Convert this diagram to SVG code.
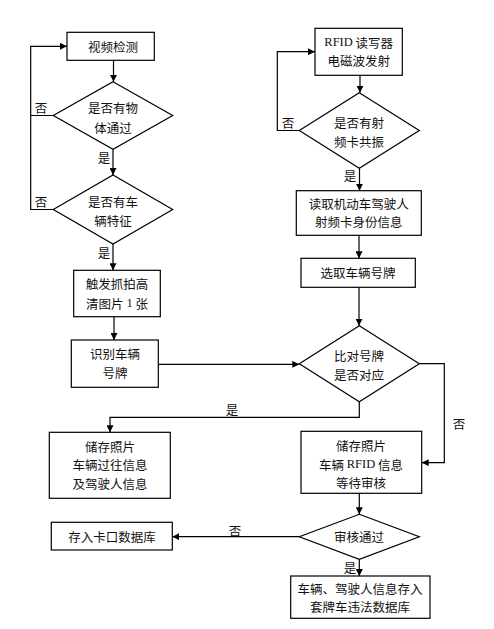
<svg xmlns="http://www.w3.org/2000/svg" width="494" height="629" viewBox="0 0 494 629">
<defs>
<marker id="ah" viewBox="0 0 8 8" markerWidth="7" markerHeight="7" refX="8" refY="4" orient="auto" markerUnits="userSpaceOnUse">
<path d="M0,0 L8,4 L0,8 z" fill="#000"/>
</marker>
<style>
.n{fill:#fff;stroke:#000;stroke-width:1.2}
.c{fill:none;stroke:#000;stroke-width:1.2}
.a{marker-end:url(#ah)}
text{font-family:"Noto Sans CJK SC","Noto Sans",sans-serif;font-size:12.5px;fill:#111;text-anchor:middle;dominant-baseline:central}
.r{font-family:"Liberation Serif",serif}
</style>
</defs>
<rect width="494" height="629" fill="#fff"/>
<g id="connectors">
<path class="c a" d="M113.5,60 V81.7"/>
<path class="c a" d="M113,149.3 V175"/>
<path class="c a" d="M53.3,115.5 H30.7 V46.3 H67"/>
<path class="c" d="M53.3,209.5 H30.7 V115.5"/>
<path class="c a" d="M113,244 V270.3"/>
<path class="c a" d="M114,316.7 V340"/>
<path class="c a" d="M158.3,364.3 H299.3"/>
<path class="c a" d="M360,75.3 V92.7"/>
<path class="c a" d="M299.3,130.5 H277.3 V51.7 H315"/>
<path class="c a" d="M359.5,168.3 V190.7"/>
<path class="c a" d="M359,235.3 V258.3"/>
<path class="c a" d="M359,287.3 V325.7"/>
<path class="c a" d="M359.3,401.7 V417.3 H110 V432.3"/>
<path class="c a" d="M419.3,363.7 H444.3 V462.7 H421.7"/>
<path class="c a" d="M359.3,493.3 V514.3"/>
<path class="c a" d="M299.3,536.7 H172.3"/>
<path class="c a" d="M359.3,559.3 V576"/>
<text x="41" y="107">否</text>
<text x="104" y="157">是</text>
<text x="41" y="201">否</text>
<text x="104" y="252">是</text>
<text x="288" y="122.7">否</text>
<text x="350" y="175">是</text>
<text x="232" y="409">是</text>
<text x="459" y="423">否</text>
<text x="235" y="530">否</text>
<text x="350" y="567.5">是</text>
</g>
<g id="n1"><rect class="n" x="67" y="32.3" width="87.3" height="28"/><text x="113" y="46.3">视频检测</text></g>
<g id="n2"><polygon class="n" points="113,81.7 172.7,115.5 113,149.3 53.3,115.5"/><text x="113" y="107">是否有物</text><text x="113" y="127">体通过</text></g>
<g id="n3"><polygon class="n" points="113,175 172.7,209.5 113,244 53.3,209.5"/><text x="113" y="201">是否有车</text><text x="113" y="220">辆特征</text></g>
<g id="n4"><rect class="n" x="73.7" y="270.3" width="86.6" height="46.4"/><text x="117" y="283">触发抓拍高</text><text x="117" y="303">清图片 <tspan class="r">1</tspan> 张</text></g>
<g id="n5"><rect class="n" x="71.3" y="340" width="87" height="47.3"/><text x="115" y="353">识别车辆</text><text x="115" y="372">号牌</text></g>
<g id="n6"><rect class="n" x="49.3" y="432.3" width="121" height="66"/><text x="110" y="446">储存照片</text><text x="110" y="464.3">车辆过往信息</text><text x="110" y="483.3">及驾驶人信息</text></g>
<g id="n7"><rect class="n" x="51.3" y="522.3" width="121" height="27.7"/><text x="112" y="536.5">存入卡口数据库</text></g>
<g id="n8"><rect class="n" x="315" y="28.3" width="87.3" height="47"/><text x="358.7" y="42.3"><tspan class="r">RFID</tspan> 读写器</text><text x="358.7" y="60.7">电磁波发射</text></g>
<g id="n9"><polygon class="n" points="359.3,92.7 419.3,130.5 359.3,168.3 299.3,130.5"/><text x="359" y="122.7">是否有射</text><text x="359" y="141.7">频卡共振</text></g>
<g id="n10"><rect class="n" x="296.3" y="190.7" width="125" height="44.6"/><text x="358.8" y="203.3">读取机动车驾驶人</text><text x="358.8" y="221.7">射频卡身份信息</text></g>
<g id="n11"><rect class="n" x="301" y="258.3" width="114.3" height="29"/><text x="358" y="272.7">选取车辆号牌</text></g>
<g id="n12"><polygon class="n" points="359.3,325.7 419.3,363.7 359.3,401.7 299.3,363.7"/><text x="359" y="355">比对号牌</text><text x="359" y="374">是否对应</text></g>
<g id="n13"><rect class="n" x="301" y="431.3" width="120.7" height="62"/><text x="361" y="445">储存照片</text><text x="361" y="464">车辆 <tspan class="r">RFID</tspan> 信息</text><text x="361" y="482.3">等待审核</text></g>
<g id="n14"><polygon class="n" points="359.3,514.3 419.3,536.7 359.3,559.3 299.3,536.7"/><text x="359" y="536.7">审核通过</text></g>
<g id="n15"><rect class="n" x="290.7" y="576" width="139.3" height="42.3"/><text x="360" y="588">车辆、驾驶人信息存入</text><text x="360" y="606.5">套牌车违法数据库</text></g>
</svg>
